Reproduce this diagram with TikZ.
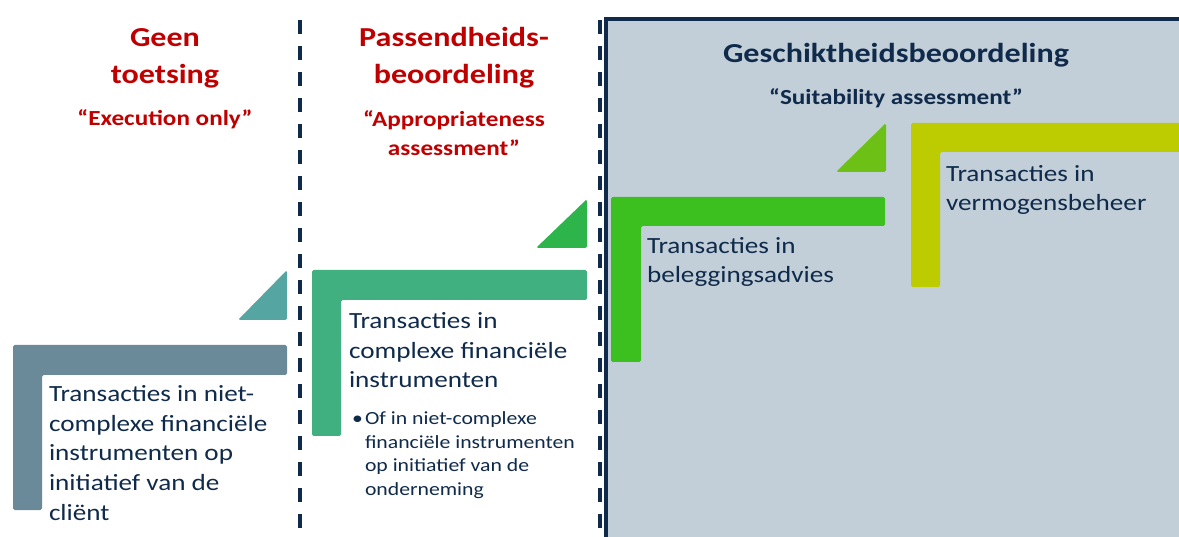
\documentclass[tikz,border=0pt]{standalone}
\usepackage{fontspec}
\setmainfont{Carlito}[FakeStretch=1.17]
\usetikzlibrary{positioning}

\definecolor{navy}{HTML}{0F2A4A}
\definecolor{titlered}{HTML}{C00000}
\definecolor{panel}{HTML}{C2CFD9}
\definecolor{slate}{HTML}{6A8999}
\definecolor{teal}{HTML}{55A6A2}
\definecolor{jade}{HTML}{40B080}
\definecolor{leaf}{HTML}{2DB54C}
\definecolor{lime}{HTML}{3BC020}
\definecolor{apple}{HTML}{6DC116}
\definecolor{olive}{HTML}{BDCC00}

\begin{document}
\begin{tikzpicture}[x=0.025cm, y=-0.025cm,
    every node/.style={inner sep=0pt, outer sep=0pt},
    head/.style={font=\fontsize{19.5}{27}\selectfont\bfseries, align=center, anchor=base},
    subhead/.style={font=\fontsize{15.3}{21.3}\selectfont\bfseries, align=center, anchor=base},
    body/.style={font=\fontsize{16.5}{21}\selectfont, align=left, anchor=base west, text=navy},
    note/.style={font=\fontsize{13.2}{16.6}\selectfont, align=left, anchor=base west, text=navy},
    divider/.style={draw=navy, line width=2.2pt, dash pattern=on 10pt off 8.5pt},
    bar/.style={rounded corners=1.2pt}]
    \useasboundingbox (0,0) rectangle (1179,537);
    % Panel for suitability
    \fill[panel] (606,19) rectangle (1185,545);
    \draw[navy, line width=2.2pt] (606,545) -- (606,19) -- (1185,19);
    % Dividers
    \draw[divider] (300,20) -- (300,545);
    \draw[divider] (600,20) -- (600,545);
    % Headings (anchored on their last line)
    \node (geen) [head, text=titlered] at (165,84) {Geen\\toetsing};
    \node (execonly) [subhead, text=titlered] at (165,126) {“Execution only”};
    \node (passend) [head, text=titlered] at (454,84) {Passendheids-\\beoordeling};
    \node (approp) [subhead, text=titlered] at (454,156) {“Appropriateness\\assessment”};
    \node (geschikt) [head, text=navy] at (896,63) {Geschiktheidsbeoordeling};
    \node (suit) [subhead, text=navy] at (896,105) {“Suitability assessment”};
    % Steps
    \fill[slate, bar] (13,345) -- (287,345) -- (287,375) -- (42,375) -- (42,510) -- (13,510) -- cycle;
    \fill[teal, bar] (238,320) -- (287,270) -- (287,320) -- cycle;
    \fill[jade, bar] (312,270) -- (587,270) -- (587,300) -- (341,300) -- (341,436) -- (312,436) -- cycle;
    \fill[leaf, bar] (536,248) -- (587,199) -- (587,248) -- cycle;
    \fill[lime, bar] (611,197) -- (885,197) -- (885,226) -- (641,226) -- (641,362) -- (611,362) -- cycle;
    \fill[apple, bar] (836,172) -- (886,123) -- (886,172) -- cycle;
    \fill[olive, bar] (911,123) -- (1185,123) -- (1185,152) -- (940,152) -- (940,287) -- (911,287) -- cycle;
    % Texts (anchored on their last line)
    \node (nietcomplex) [body] at (49,520) {Transacties in niet-\\complexe financiële\\instrumenten op\\initiatief van de\\cliënt};
    \node (complex) [body] at (349,388) {Transacties in\\complexe financiële\\instrumenten};
    \node (dot) [note] at (352,425) {•};
    \node (initiatief) [note] at (365,495) {Of in niet-complexe\\financiële instrumenten\\op initiatief van de\\onderneming};
    \node (advies) [body] at (647,283) {Transacties in\\beleggingsadvies};
    \node (beheer) [body] at (946,211) {Transacties in\\vermogensbeheer};
\end{tikzpicture}
\end{document}
